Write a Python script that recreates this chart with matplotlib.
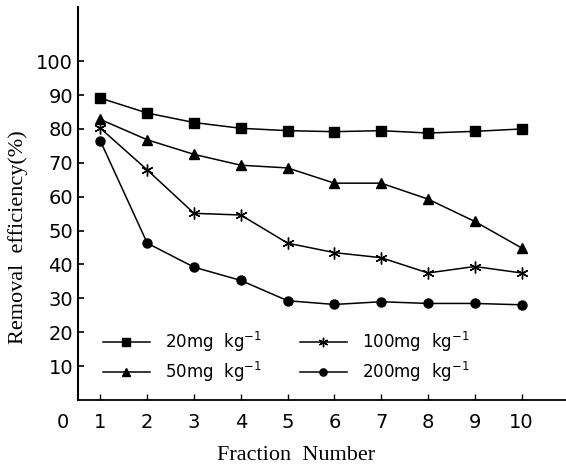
import matplotlib
matplotlib.use("Agg")
import matplotlib.pyplot as plt

# -------------------------------------------------------------------
# Data
# -------------------------------------------------------------------
fractions = [1, 2, 3, 4, 5, 6, 7, 8, 9, 10]
eff_20 = [89.1, 84.7, 81.9, 80.2, 79.5, 79.2, 79.5, 78.8, 79.3, 80.0]
eff_50 = [82.8, 76.8, 72.5, 69.3, 68.5, 64.0, 64.0, 59.3, 52.7, 44.9]
eff_100 = [80.2, 67.9, 55.1, 54.6, 46.3, 43.5, 42.0, 37.5, 39.4, 37.5]
eff_200 = [76.4, 46.3, 39.2, 35.3, 29.3, 28.2, 29.0, 28.5, 28.5, 28.1]
labels = ["20mg  kg$^{\\mathregular{-1}}$", "50mg  kg$^{\\mathregular{-1}}$",
          "100mg  kg$^{\\mathregular{-1}}$", "200mg  kg$^{\\mathregular{-1}}$"]
yticks = [10, 20, 30, 40, 50, 60, 70, 80, 90, 100]

# -------------------------------------------------------------------
# Figure
# -------------------------------------------------------------------
fig = plt.figure(figsize=(5.66, 4.68), dpi=100)
ax = fig.add_axes([78 / 566, 68 / 468, 488 / 566, 393 / 468])

style = dict(color="black", lw=1.1)
l20, = ax.plot(fractions, eff_20, marker="s", ms=6.5, **style)
l50, = ax.plot(fractions, eff_50, marker="^", ms=7, **style)
l100, = ax.plot(fractions, eff_100, marker=(6, 2, 0), ms=8.5, mew=1.0, **style)
l200, = ax.plot(fractions, eff_200, marker="o", ms=6.5, **style)

ax.set_xlim(0.52, 10.95)
ax.set_ylim(0, 116)
ax.set_xticks(fractions)
ax.set_yticks(yticks)

for s in ["top", "right"]:
    ax.spines[s].set_visible(False)
ax.spines["left"].set_linewidth(1.5)
ax.spines["bottom"].set_linewidth(1.3)

ax.tick_params(axis="y", direction="in", length=4, width=1.2, pad=3.5,
               labelsize=14)
ax.tick_params(axis="x", direction="in", length=4, width=1.0, pad=9,
               labelsize=14)

# origin label left of the y axis
ax.annotate("0", xy=(0.2, 0), xycoords=("data", "axes fraction"),
            xytext=(0, -9), textcoords="offset points",
            ha="center", va="top", fontsize=14)

serif = ["Liberation Serif", "DejaVu Serif"]
ax.set_xlabel("Fraction  Number", family=serif, fontsize=16, va="center")
ax.xaxis.set_label_coords(0.447, -0.14)
ax.set_ylabel("Removal  efficiency(%)", family=serif, fontsize=16,
              va="center")
ax.yaxis.set_label_coords(-0.123, 0.415)

leg = ax.legend([l20, l50, l100, l200], labels, ncol=2, frameon=False,
                loc="upper left", bbox_to_anchor=(103 / 566, 1 - 330 / 468),
                bbox_transform=fig.transFigure, borderaxespad=0,
                borderpad=0, fontsize=12, numpoints=1, handlelength=2.8,
                handletextpad=0.9, columnspacing=2.3, labelspacing=0.35,
                markerscale=0.8)

fig.savefig("out.png", dpi=100)
